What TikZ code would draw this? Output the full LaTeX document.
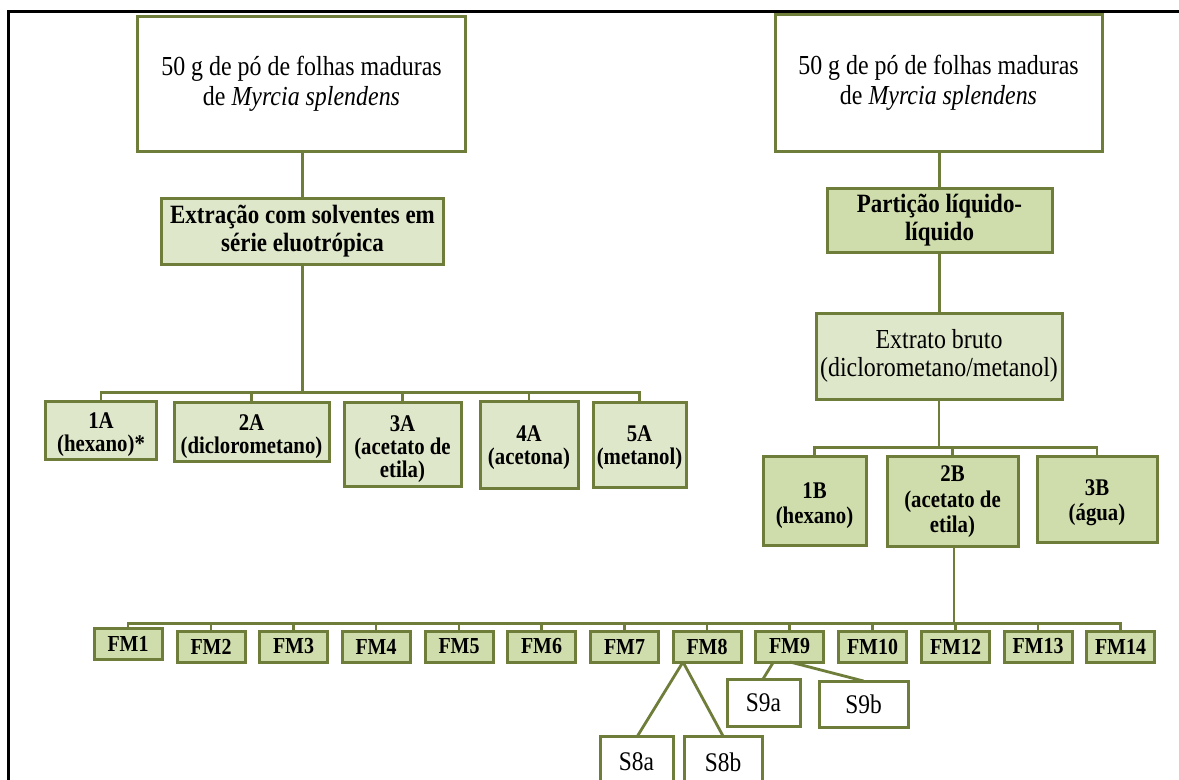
\documentclass[tikz,border=0pt]{standalone}
\usepackage{fontspec}
\setmainfont{Liberation Serif}[FakeStretch=0.87]
\definecolor{ogreen}{RGB}{110,126,58}
\definecolor{lfill}{RGB}{223,231,202}
\definecolor{dfill}{RGB}{207,220,171}
\tikzset{
  box/.style={draw=ogreen, line width=3bp, inner sep=0pt, outer sep=0pt, align=center},
  wbox/.style={box, fill=white},
  lbox/.style={box, fill=lfill},
  dbox/.style={box, fill=dfill},
  conn/.style={draw=ogreen, line width=2.8bp},
  txt/.style={inner sep=0pt, align=center},
  bigreg/.style={font=\fontsize{27.6}{30}\selectfont},
  bigbold/.style={font=\fontsize{26.5}{28}\selectfont\bfseries},
  midbold/.style={font=\fontsize{24}{23}\selectfont\bfseries},
  midboldB/.style={font=\fontsize{24}{25.5}\selectfont\bfseries},
  fmbold/.style={font=\fontsize{23}{24}\selectfont\bfseries},
  sreg/.style={font=\fontsize{27}{28}\selectfont},
}
\begin{document}
\begin{tikzpicture}[x=1bp,y=-1bp]
\useasboundingbox (0,0) rectangle (1179,780);
\fill[white] (0,0) rectangle (1179,780);
% frame
\draw[black, line width=2.2bp] (8.5,780) -- (8.5,11.5) -- (1179,11.5);

% left branch
\node[wbox, bigreg, minimum width=327bp, minimum height=134bp] (T1) at (301.5,84) {50 g de pó de folhas maduras\\de \textit{Myrcia splendens}};
\node[lbox, bigbold, minimum width=281bp, minimum height=66bp] (E1) at (302.5,231) {Extração com solventes em\\série eluotrópica};
\node[lbox, minimum width=110bp, minimum height=58bp] (A1) at (101,430) {};
\node[lbox, minimum width=155bp, minimum height=59bp] (A2) at (251.5,431.5) {};
\node[lbox, minimum width=117bp, minimum height=84bp] (A3) at (402.5,444) {};
\node[lbox, minimum width=98bp, minimum height=87bp] (A4) at (529,444.5) {};
\node[lbox, minimum width=93bp, minimum height=85bp] (A5) at (639.5,444.5) {};
\node[txt, midbold] (A1t) at ([yshift=-5bp]A1.center) {1A\\(hexano)*};
\node[txt, midbold] (A2t) at ([yshift=-5bp]A2.center) {2A\\(diclorometano)};
\node[txt, midbold] (A3t) at ([yshift=-5bp]A3.center) {3A\\(acetato de\\etila)};
\node[txt, midbold] (A4t) at ([yshift=-3bp]A4.center) {4A\\(acetona)};
\node[txt, midbold] (A5t) at ([yshift=-3bp]A5.center) {5A\\(metanol)};
\coordinate (jA) at (302.5,392.5);
\draw[conn] (T1.south -| E1.north) -- (E1.north);
\draw[conn] (E1.south) -- (jA);
\foreach \n in {A1,A2,A3,A4,A5} \draw[conn] (jA) -| (\n.north);

% right branch
\node[wbox, bigreg, minimum width=327bp, minimum height=136bp] (T2) at (938.5,83) {50 g de pó de folhas maduras\\de \textit{Myrcia splendens}};
\node[dbox, bigbold, minimum width=225bp, minimum height=64bp] (P) at (939.5,220) {Partição líquido-\\líquido};
\node[lbox, font=\fontsize{27.6}{28}\selectfont, minimum width=246bp, minimum height=86bp] (EB) at (939,356) {Extrato bruto\\(diclorometano/metanol)};
\node[dbox, minimum width=103bp, minimum height=89bp] (B1) at (814.5,500.5) {};
\node[dbox, minimum width=131bp, minimum height=90bp] (B2) at (952.5,501) {};
\node[dbox, minimum width=120bp, minimum height=86bp] (B3) at (1097,499) {};
\node[txt, midboldB] (B1t) at ([yshift=-5bp]B1.center) {1B\\(hexano)};
\node[txt, midboldB] (B2t) at ([yshift=-1bp]B2.center) {2B\\(acetato de\\etila)};
\node[txt, midboldB] (B3t) at ([yshift=-4bp]B3.center) {3B\\(água)};
\coordinate (jB) at (939,447.5);
\draw[conn] (T2.south -| P.north) -- (P.north);
\draw[conn] (P.south) -- (P.south |- EB.north);
\draw[conn] (EB.south) -- (jB);
\foreach \n in {B1,B2,B3} \draw[conn] (jB) -| (\n.north);

% FM row
\node[dbox, fmbold, minimum width=68bp, minimum height=31bp] (FM1) at (128,643.5) {FM1};
\foreach \n/\x in {FM2/211,FM3/293.5,FM4/376,FM5/459,FM6/541.5,FM7/624.5,FM8/707,FM9/789.5,FM10/872.5,FM12/955.5,FM13/1038,FM14/1120.5}
  \node[dbox, fmbold, minimum width=68bp, minimum height=31bp] (\n) at (\x,646.5) {\n};
\coordinate (jF) at (954,623.5);
\draw[conn] (B2.south -| jF) -- (jF);
\foreach \n in {FM1,FM2,FM3,FM4,FM5,FM6,FM7,FM8,FM9,FM10,FM12,FM13,FM14} \draw[conn] (jF) -| (\n.north);

% sub fractions
\node[wbox, sreg, minimum width=73bp, minimum height=47bp] (S9a) at (763.5,702.5) {S9a};
\node[wbox, sreg, minimum width=89bp, minimum height=46bp] (S9b) at (863.5,704) {S9b};
\node[wbox, sreg, minimum width=73bp, minimum height=52bp] (S8a) at (636.5,762) {S8a};
\node[wbox, sreg, minimum width=78bp, minimum height=52bp] (S8b) at (723,762) {S8b};
\draw[conn] ([xshift=-24bp]FM8.south) -- ([xshift=1bp]S8a.north);
\draw[conn] ([xshift=-24bp]FM8.south) -- (S8b.north);
\draw[conn] ([xshift=-16bp]FM9.south) -- ([xshift=-0.5bp]S9a.north);
\draw[conn] ([xshift=0.5bp]FM9.south) -- (S9b.north);
\end{tikzpicture}
\end{document}
